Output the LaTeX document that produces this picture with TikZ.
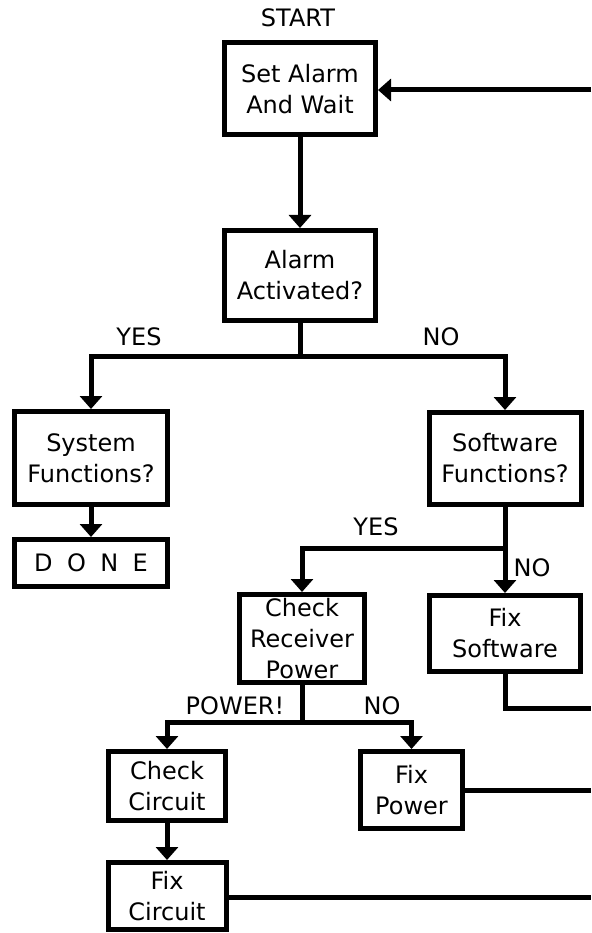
\documentclass[tikz,border=0pt]{standalone}
\usepackage{fontspec}
\setmainfont{DejaVu Sans}
\usetikzlibrary{arrows.meta}
\begin{document}
\begin{tikzpicture}[x=1pt,y=-1pt,
  box/.style={draw=black,line width=5pt,inner sep=0pt,align=center,
    font=\fontsize{24}{31}\selectfont},
  lbl/.style={inner sep=0pt,font=\fontsize{24}{31}\selectfont},
  arr/.style={line width=5pt,-{Triangle[width=22pt,length=13pt]}},
  ln/.style={line width=5pt}]
\useasboundingbox (0,0) rectangle (591,933);
\node[box,minimum width=151pt,minimum height=92pt] (set) at (300,89) {Set Alarm\\And Wait};
\node[lbl] (start) at (298,18) {START};
\node[box,minimum width=151pt,minimum height=90pt] (alarm) at (300,275.5) {Alarm\\Activated?};
\node[box,minimum width=153pt,minimum height=93pt] (sys) at (91,458) {System\\Functions?};
\node[box,minimum width=153pt,minimum height=47pt] (done) at (91,563) {D\hspace{0.6em}O\hspace{0.6em}N\hspace{0.6em}E};
\node[box,minimum width=152pt,minimum height=92pt] (soft) at (505,458.5) {Software\\Functions?};
\node[box,minimum width=151pt,minimum height=76pt] (fixsoft) at (505,633.5) {Fix\\Software};
\node[box,minimum width=125pt,minimum height=88pt] (check) at (302,638.5) {Check\\Receiver\\Power};
\node[box,minimum width=117pt,minimum height=69pt] (ccirc) at (167,786) {Check\\Circuit};
\node[box,minimum width=102pt,minimum height=77pt] (fixpow) at (411.5,790) {Fix\\Power};
\node[box,minimum width=118pt,minimum height=67pt] (fixcirc) at (167,896) {Fix\\Circuit};
\node[lbl] (yes1) at (139,337) {YES};
\node[lbl] (no1) at (441,337) {NO};
\node[lbl] (yes2) at (376,527) {YES};
\node[lbl] (no2) at (532,568) {NO};
\node[lbl] (pow) at (235,706) {POWER!};
\node[lbl] (no3) at (382,706) {NO};
\coordinate (e1) at (591,90);
\coordinate (e2) at (591,708);
\coordinate (e3) at (591,790);
\coordinate (e4) at (591,897);
\coordinate (j1) at (300,356);
\coordinate (j2) at (505,548);
\coordinate (j3) at (302,722);
\draw[arr] (set.south) -- (alarm.north);
\draw[arr] (e1) -- (e1 -| set.east);
\draw[ln] (alarm.south) -- (j1);
\draw[arr] (j1) -| (sys.north);
\draw[arr] (j1) -| (soft.north);
\draw[arr] (sys.south) -- (done.north);
\draw[ln] (soft.south) -- (j2);
\draw[arr] (j2) -| (check.north);
\draw[arr] (j2) -- (fixsoft.north);
\draw[ln] (fixsoft.south) |- (e2);
\draw[ln] (check.south) -- (j3);
\draw[arr] (j3) -| (ccirc.north);
\draw[arr] (j3) -| (fixpow.north);
\draw[arr] (ccirc.south) -- (fixcirc.north);
\draw[ln] (fixpow.east |- e3) -- (e3);
\draw[ln] (fixcirc.east |- e4) -- (e4);
\end{tikzpicture}
\end{document}
